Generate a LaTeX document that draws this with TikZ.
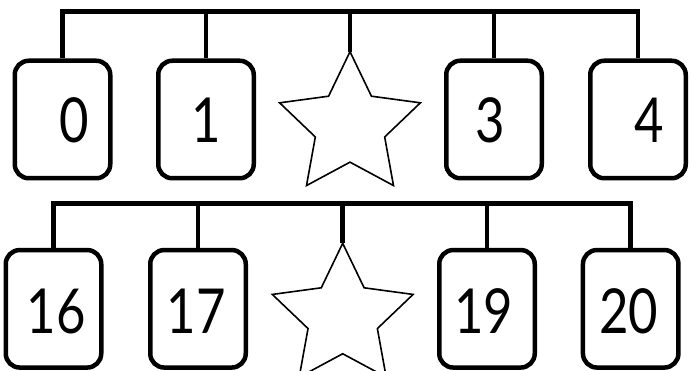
\documentclass[tikz,border=0pt]{standalone}
\usepackage{fontspec}
\newfontfamily\numfont[FakeStretch=0.82]{Lato}
\usetikzlibrary{shapes.geometric}
\begin{document}
\begin{tikzpicture}[x=1pt,y=-1pt,
  cardbox/.style={draw, line width=4.5pt, rounded corners=14pt, minimum width=95.5pt, minimum height=117.5pt, inner sep=0pt},
  num/.style={font=\numfont\fontsize{62}{62}\selectfont, inner sep=0pt, text depth=0pt},
  starshape/.style={star, star points=5, star point ratio=2.03, draw, line width=1.6pt, minimum size=148pt, inner sep=0pt, outer sep=0pt, anchor=north},
  bar/.style={line width=4.7pt}]
\useasboundingbox (0,0) rectangle (691,371);
% top row
\node[cardbox] (b0) at (62.5,119.5) {};
\node[cardbox] (b1) at (206,119.5) {};
\node[cardbox] (b3) at (494,119.5) {};
\node[cardbox] (b4) at (638,119.5) {};
\node[starshape] (s1) at (350,51.7) {};
\node[num] (t0) at (74,120.5) {0};
\node[num] (t1) at (206,120.5) {1};
\node[num] (t3) at (490,120.5) {3};
\node[num] (t4) at (649,120.5) {4};
\coordinate (tbar) at (350,11.7);
\draw[bar] (b0.north) |- (tbar) -| (b4.north);
\draw[bar] (b1.north) -- (b1.north |- tbar);
\draw[bar] (s1.north) -- (s1.north |- tbar);
\draw[bar] (b3.north) -- (b3.north |- tbar);
% bottom row
\node[cardbox] (b16) at (53.5,308.8) {};
\node[cardbox] (b17) at (198,308.8) {};
\node[cardbox] (b19) at (487,308.8) {};
\node[cardbox] (b20) at (630.7,308.8) {};
\node[starshape] (s2) at (342.7,243.3) {};
\node[num] (t16) at (56,311.5) {16};
\node[num] (t17) at (196,311.5) {17};
\node[num] (t19) at (483.5,311.5) {19};
\node[num] (t20) at (628.5,311.5) {20};
\coordinate (bbar) at (343,203.3);
\draw[bar] (b16.north) |- (bbar) -| (b20.north);
\draw[bar] (b17.north) -- (b17.north |- bbar);
\draw[bar] (s2.north) -- (s2.north |- bbar);
\draw[bar] (b19.north) -- (b19.north |- bbar);
\end{tikzpicture}
\end{document}
